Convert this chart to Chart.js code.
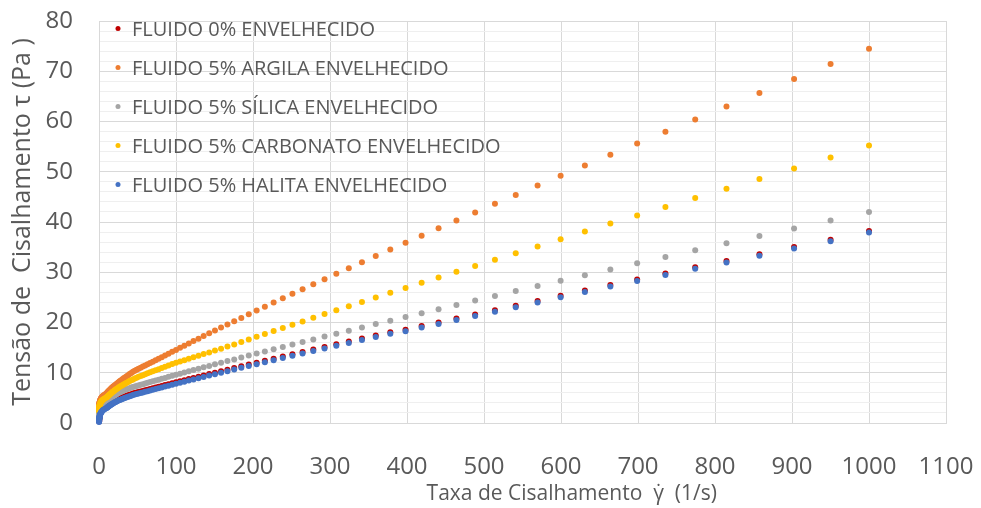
<!DOCTYPE html>
<html lang="pt">
<head>
<meta charset="utf-8">
<title>Tensão de cisalhamento x taxa de cisalhamento</title>
<script src="https://cdn.jsdelivr.net/npm/chart.js@4.4.1/dist/chart.umd.min.js"></script>
<style>
  html, body { margin: 0; padding: 0; background: #ffffff; }
  #wrap { width: 981px; height: 508px; }
</style>
</head>
<body>
<div id="wrap"><canvas id="chart" width="981" height="508"></canvas></div>
<script>
// Taxa de cisalhamento (1/s) – rampa logarítmica
const SHEAR_RATE = [
  0.1, 0.117, 0.136, 0.158, 0.185, 0.215, 0.251, 0.293, 0.341, 0.398, 0.464, 0.541, 0.631, 0.736, 0.858,
  1, 1.17, 1.36, 1.58, 1.85, 2.15, 2.51, 2.93, 3.41, 3.98, 4.64, 5.41, 6.31, 7.36, 8.58,
  10, 10.53, 11.08, 11.66, 12.27, 12.92, 13.59, 14.31, 15.06, 15.85, 16.68, 17.56, 18.48, 19.45, 20.47,
  21.54, 22.68, 23.87, 25.12, 26.44, 27.83, 29.29, 30.82, 32.44, 34.15, 35.94, 37.83, 39.81, 41.9, 44.1,
  46.42, 48.85, 51.42, 54.12, 56.96, 59.95, 63.1, 66.41, 69.89, 73.56, 77.43, 81.49, 85.77, 90.27, 95.01,
  100, 105.3, 110.8, 116.6, 122.7, 129.2, 135.9, 143.1, 150.6, 158.5, 166.8, 175.6, 184.8, 194.5, 204.7,
  215.4, 226.8, 238.7, 251.2, 264.4, 278.3, 292.9, 308.2, 324.4, 341.5, 359.4, 378.3, 398.1, 419, 441,
  464.2, 488.5, 514.2, 541.2, 569.6, 599.5, 631, 664.1, 698.9, 735.6, 774.3, 814.9, 857.7, 902.7, 950.1,
  1000
];

// Tensão de cisalhamento (Pa) de cada fluido
const TAU_FLUIDO_0 = [
  0.35, 0.43, 0.51, 0.59, 0.67, 0.75, 0.83, 0.91, 0.99, 1.07, 1.15, 1.23, 1.31, 1.39, 1.47,
  1.70, 1.81, 1.91, 2.02, 2.13, 2.23, 2.34, 2.45, 2.55, 2.66, 2.77, 2.87, 2.98, 3.09, 3.19,
  3.30, 3.37, 3.44, 3.52, 3.59, 3.67, 3.75, 3.82, 3.90, 3.98, 4.07, 4.15, 4.23, 4.32, 4.41,
  4.49, 4.58, 4.67, 4.76, 4.86, 4.95, 5.05, 5.14, 5.24, 5.34, 5.44, 5.54, 5.64, 5.74, 5.85,
  5.96, 6.06, 6.16, 6.27, 6.39, 6.51, 6.64, 6.77, 6.91, 7.06, 7.21, 7.37, 7.54, 7.72, 7.91,
  8.10, 8.30, 8.51, 8.74, 8.97, 9.21, 9.47, 9.74, 10.02, 10.31, 10.62, 10.94, 11.28, 11.63, 12.00,
  12.39, 12.79, 13.22, 13.66, 14.13, 14.61, 15.12, 15.66, 16.22, 16.80, 17.42, 18.06, 18.58, 19.29, 20.02,
  20.79, 21.60, 22.45, 23.34, 24.26, 25.32, 26.37, 27.45, 28.57, 29.75, 30.98, 32.26, 33.60, 35.01, 36.48,
  38.20
];
const TAU_ARGILA = [
  3.00, 3.08, 3.16, 3.24, 3.32, 3.40, 3.48, 3.56, 3.64, 3.72, 3.80, 3.88, 3.96, 4.04, 4.12,
  4.20, 4.31, 4.42, 4.53, 4.64, 4.75, 4.86, 4.97, 5.08, 5.19, 5.30, 5.41, 5.52, 5.63, 5.77,
  5.90, 6.00, 6.10, 6.20, 6.30, 6.40, 6.52, 6.64, 6.76, 6.88, 7.00, 7.12, 7.24, 7.36, 7.48,
  7.60, 7.76, 7.92, 8.08, 8.24, 8.40, 8.58, 8.76, 8.94, 9.12, 9.30, 9.52, 9.74, 9.96, 10.18,
  10.40, 10.60, 10.80, 11.00, 11.22, 11.45, 11.70, 11.95, 12.20, 12.48, 12.78, 13.10, 13.44, 13.79, 14.17,
  14.55, 14.96, 15.39, 15.83, 16.30, 16.79, 17.30, 17.84, 18.40, 18.99, 19.60, 20.25, 20.92, 21.63, 22.37,
  23.15, 23.96, 24.81, 25.70, 26.63, 27.61, 28.63, 29.70, 30.82, 31.99, 33.22, 34.51, 35.86, 37.27, 38.75,
  40.29, 41.91, 43.61, 45.39, 47.25, 49.19, 51.23, 53.37, 55.60, 57.95, 60.40, 62.97, 65.65, 68.47, 71.42,
  74.50
];
const TAU_SILICA = [
  1.50, 1.57, 1.64, 1.72, 1.79, 1.87, 1.94, 2.01, 2.09, 2.16, 2.23, 2.31, 2.38, 2.45, 2.53,
  2.60, 2.69, 2.79, 2.88, 2.97, 3.07, 3.16, 3.25, 3.35, 3.44, 3.53, 3.63, 3.72, 3.81, 3.91,
  4.00, 4.11, 4.22, 4.33, 4.43, 4.54, 4.65, 4.76, 4.87, 4.98, 5.09, 5.20, 5.30, 5.41, 5.52,
  5.63, 5.74, 5.85, 5.96, 6.07, 6.17, 6.28, 6.39, 6.50, 6.61, 6.72, 6.83, 6.94, 7.04, 7.15,
  7.26, 7.37, 7.48, 7.61, 7.73, 7.86, 8.00, 8.15, 8.30, 8.46, 8.63, 8.80, 8.98, 9.18, 9.38,
  9.59, 9.81, 10.04, 10.28, 10.53, 10.80, 11.07, 11.36, 11.67, 11.98, 12.32, 12.66, 13.03, 13.41, 13.81,
  14.23, 14.67, 15.13, 15.61, 16.11, 16.64, 17.19, 17.77, 18.38, 19.01, 19.68, 20.37, 21.10, 21.86, 22.66,
  23.50, 24.37, 25.29, 26.25, 27.26, 28.31, 29.41, 30.57, 31.77, 33.04, 34.36, 35.75, 37.21, 38.73, 40.32,
  41.99
];
const TAU_CARBONATO = [
  2.40, 2.48, 2.56, 2.64, 2.72, 2.80, 2.88, 2.96, 3.04, 3.12, 3.20, 3.28, 3.36, 3.44, 3.52,
  3.60, 3.70, 3.80, 3.90, 4.00, 4.10, 4.20, 4.30, 4.40, 4.50, 4.60, 4.70, 4.80, 4.90, 5.00,
  5.10, 5.18, 5.27, 5.35, 5.44, 5.54, 5.63, 5.73, 5.83, 5.94, 6.05, 6.16, 6.27, 6.39, 6.51,
  6.63, 6.76, 6.89, 7.02, 7.15, 7.29, 7.43, 7.58, 7.72, 7.87, 8.03, 8.18, 8.34, 8.50, 8.67,
  8.84, 9.01, 9.19, 9.35, 9.52, 9.70, 9.88, 10.08, 10.28, 10.49, 10.71, 10.95, 11.19, 11.45, 11.72,
  12.00, 12.25, 12.51, 12.78, 13.08, 13.38, 13.71, 14.05, 14.42, 14.79, 15.20, 15.61, 16.10, 16.61, 17.15,
  17.70, 18.29, 18.91, 19.55, 20.22, 20.93, 21.67, 22.44, 23.25, 24.10, 24.98, 25.91, 26.89, 27.91, 28.97,
  30.09, 31.26, 32.49, 33.77, 35.11, 36.57, 38.09, 39.69, 41.30, 42.99, 44.76, 46.62, 48.56, 50.65, 52.85,
  55.20
];
const TAU_HALITA = [
  0.20, 0.28, 0.36, 0.44, 0.52, 0.60, 0.68, 0.76, 0.84, 0.92, 1.00, 1.08, 1.16, 1.24, 1.32,
  1.40, 1.51, 1.61, 1.72, 1.83, 1.93, 2.04, 2.15, 2.25, 2.36, 2.47, 2.57, 2.68, 2.79, 2.89,
  3.00, 3.07, 3.14, 3.22, 3.29, 3.37, 3.45, 3.52, 3.60, 3.68, 3.77, 3.85, 3.93, 4.02, 4.11,
  4.19, 4.28, 4.37, 4.46, 4.56, 4.65, 4.75, 4.84, 4.94, 5.04, 5.14, 5.24, 5.34, 5.44, 5.55,
  5.66, 5.76, 5.86, 5.97, 6.09, 6.21, 6.34, 6.47, 6.61, 6.76, 6.91, 7.07, 7.24, 7.42, 7.61,
  7.80, 8.00, 8.21, 8.44, 8.67, 8.91, 9.17, 9.44, 9.72, 10.01, 10.32, 10.64, 10.98, 11.33, 11.70,
  12.09, 12.49, 12.92, 13.36, 13.83, 14.31, 14.82, 15.36, 15.92, 16.50, 17.12, 17.76, 18.28, 18.99, 19.72,
  20.49, 21.30, 22.15, 23.04, 23.96, 25.02, 26.07, 27.15, 28.27, 29.45, 30.68, 31.96, 33.30, 34.71, 36.18,
  37.90
];

const SERIES_NAMES = [
  'FLUIDO 0% ENVELHECIDO',
  'FLUIDO 5% ARGILA ENVELHECIDO',
  'FLUIDO 5% SÍLICA ENVELHECIDO',
  'FLUIDO 5% CARBONATO ENVELHECIDO',
  'FLUIDO 5% HALITA ENVELHECIDO'
];
const SERIES_VALUES = [TAU_FLUIDO_0, TAU_ARGILA, TAU_SILICA, TAU_CARBONATO, TAU_HALITA];
const SERIES_COLORS = ['#C00000', '#ED7D31', '#A5A5A5', '#FFC000', '#4472C4'];

const X_TICKS = [0, 100, 200, 300, 400, 500, 600, 700, 800, 900, 1000, 1100];
const Y_TICKS = [0, 10, 20, 30, 40, 50, 60, 70, 80];
const Y_MINOR_STEP = 2;

const X_TITLE = 'Taxa de Cisalhamento  \u03B3\u0307  (1/s)';
const Y_TITLE = 'Tensão de  Cisalhamento \u03C4 (Pa )';

const TEXT_COLOR = '#595959';
const FONT = '"Open Sans", "DejaVu Sans", sans-serif';

const datasets = SERIES_NAMES.map((name, s) => ({
  label: name,
  data: SHEAR_RATE.map((x, i) => ({ x: x, y: SERIES_VALUES[s][i] })),
  backgroundColor: SERIES_COLORS[s],
  borderColor: SERIES_COLORS[s],
  borderWidth: 0,
  pointRadius: 3,
  pointHoverRadius: 3,
  showLine: false,
  clip: false,
  // later series sit on top of earlier ones
  order: SERIES_NAMES.length - 1 - s
}));

// Legend inside the plot and the axis caption below the ticks
const overlayText = {
  id: 'overlayText',
  afterDraw(chart) {
    const ctx = chart.ctx;
    const area = chart.chartArea;
    ctx.save();
    ctx.font = '20px ' + FONT;
    ctx.textBaseline = 'alphabetic';
    ctx.textAlign = 'left';
    SERIES_NAMES.forEach((name, i) => {
      const cy = area.top + 7.5 + i * 39;
      ctx.fillStyle = SERIES_COLORS[i];
      ctx.beginPath();
      ctx.arc(area.left + 19, cy, 2.5, 0, Math.PI * 2);
      ctx.fill();
      ctx.fillStyle = TEXT_COLOR;
      ctx.fillText(name, area.left + 33, cy + 7.2);
    });
    const xs = chart.scales.x;
    ctx.font = '21px ' + FONT;
    ctx.textAlign = 'center';
    ctx.fillStyle = TEXT_COLOR;
    ctx.fillText(X_TITLE, xs.getPixelForValue(614), 500);
    ctx.restore();
  }
};

new Chart(document.getElementById('chart'), {
  type: 'scatter',
  data: { datasets: datasets },
  plugins: [overlayText],
  options: {
    responsive: false,
    devicePixelRatio: 1,
    animation: false,
    events: [],
    layout: { padding: { left: 0, top: 21, right: 35, bottom: 0 } },
    plugins: {
      legend: { display: false },
      tooltip: { enabled: false }
    },
    scales: {
      x: {
        type: 'linear',
        min: X_TICKS[0],
        max: X_TICKS[X_TICKS.length - 1],
        afterFit: (scale) => {
          scale.height = 85;
          scale.paddingLeft = 0;
          scale.paddingRight = 30;
        },
        ticks: {
          stepSize: X_TICKS[1] - X_TICKS[0],
          autoSkip: false,
          maxRotation: 0,
          padding: 30,
          color: TEXT_COLOR,
          font: { family: FONT, size: 24 },
          callback: (v) => String(v)
        },
        grid: { color: '#D9D9D9', lineWidth: 1, drawTicks: false },
        border: { color: '#D9D9D9' }
      },
      y: {
        type: 'linear',
        min: Y_TICKS[0],
        max: Y_TICKS[Y_TICKS.length - 1],
        afterFit: (scale) => {
          scale.width = 99;
          scale.paddingTop = 15;
          scale.paddingBottom = 15;
        },
        ticks: {
          stepSize: Y_MINOR_STEP,
          autoSkip: false,
          padding: 26,
          color: TEXT_COLOR,
          font: { family: FONT, size: 24 },
          callback: (v) => (Y_TICKS.includes(v) ? String(v) : '')
        },
        grid: {
          drawTicks: false,
          lineWidth: 1,
          color: (ctx) => (Y_TICKS.includes(ctx.tick.value) ? '#D9D9D9' : '#EFEFEF')
        },
        border: { color: '#D9D9D9' },
        title: {
          display: true,
          text: Y_TITLE,
          color: TEXT_COLOR,
          font: { family: FONT, size: 25 },
          padding: { top: 8, bottom: 0 }
        }
      }
    }
  }
});
</script>
</body>
</html>
